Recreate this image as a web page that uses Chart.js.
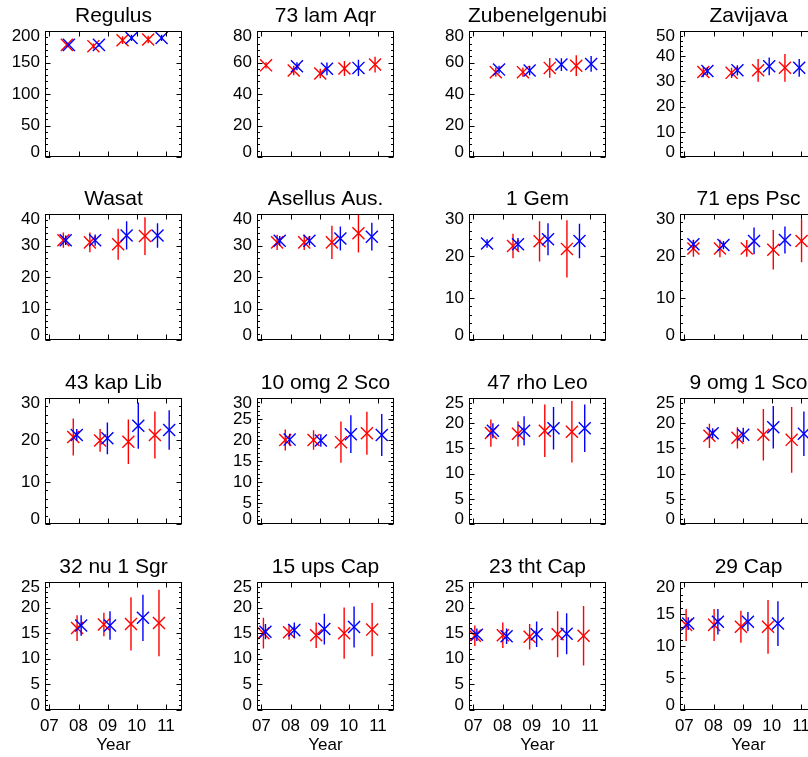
<!DOCTYPE html>
<html>
<head>
<meta charset="utf-8">
<script src="https://cdn.jsdelivr.net/npm/chart.js@4.4.1/dist/chart.umd.min.js"></script>
<style>
  html, body { margin: 0; padding: 0; background: #fff; }
  body { width: 808px; height: 757px; overflow: hidden; position: relative; }
  canvas { position: absolute; }
</style>
</head>
<body>
<script>
// ================= DATA =================
const starNames = [
  "Regulus", "73 lam Aqr", "Zubenelgenubi", "Zavijava",
  "Wasat", "Asellus Aus.", "1 Gem", "71 eps Psc",
  "43 kap Lib", "10 omg 2 Sco", "47 rho Leo", "9 omg 1 Sco",
  "32 nu 1 Sgr", "15 ups Cap", "23 tht Cap", "29 Cap"
];
const yMax  = [200, 80, 80, 50, 40, 40, 30, 30, 30, 30, 25, 25, 25, 25, 25, 20];
const yStep = [50, 20, 20, 10, 10, 10, 10, 10, 10, 5, 5, 5, 5, 5, 5, 5];

const yearTicks  = [2007, 2008, 2009, 2010, 2011];
const yearLabels = ["07", "08", "09", "10", "11"];

const redYears = [
  [2007.60, 2008.51, 2009.51, 2010.39],
  [2007.16, 2008.11, 2009.02, 2009.85, 2010.90],
  [2007.77, 2008.70, 2009.62, 2010.53],
  [2007.65, 2008.62, 2009.53, 2010.45],
  [2007.48, 2008.39, 2009.36, 2010.28],
  [2007.54, 2008.47, 2009.42, 2010.33],
  [2008.36, 2009.27, 2010.21],
  [2007.31, 2008.22, 2009.14, 2010.05, 2011.02],
  [2007.82, 2008.74, 2009.71, 2010.62],
  [2007.82, 2008.79, 2009.73, 2010.62],
  [2007.60, 2008.53, 2009.45, 2010.38],
  [2007.86, 2008.82, 2009.71, 2010.68],
  [2007.95, 2008.87, 2009.80, 2010.76],
  [2007.07, 2007.95, 2008.88, 2009.84, 2010.80],
  [2007.05, 2008.01, 2008.93, 2009.89, 2010.78],
  [2007.06, 2008.02, 2008.94, 2009.87]
];
const redValues = [
  [178, 176, 185.5, 186.5],
  [58.2, 54.9, 53.1, 56.2, 58.7],
  [53.9, 53.9, 56.6, 58.0],
  [33.7, 33.4, 34.4, 35.4],
  [31.7, 31.0, 30.4, 33.0],
  [31.0, 31.0, 31.0, 33.9],
  [22.4, 23.5, 21.7],
  [21.8, 21.8, 21.8, 21.5, 23.6],
  [20.7, 19.9, 19.6, 21.2],
  [20.0, 20.0, 19.5, 21.6],
  [18.05, 17.9, 18.5, 18.3],
  [17.5, 17.1, 17.7, 16.7],
  [16.0, 16.7, 16.8, 17.0],
  [15.0, 15.2, 14.6, 15.0, 15.7],
  [14.5, 14.6, 14.3, 14.8, 14.5],
  [13.3, 13.3, 13.0, 13.0]
];
const redErrors = [
  [3, 4, 6, 6],
  [2, 3, 3, 4.7, 5],
  [3, 3, 6.2, 6.6],
  [2, 2, 4.5, 5.5],
  [2.4, 3.1, 4.9, 6.0],
  [2.4, 2.4, 5.3, 6.1],
  [2.9, 4.8, 6.8],
  [2.0, 2.1, 2.0, 4.7, 5.1],
  [4.4, 2.7, 5.3, 5.6],
  [2.5, 2.3, 4.9, 5.1],
  [2.7, 2.5, 5.2, 6.1],
  [2.4, 2.1, 5.1, 6.5],
  [2.5, 2.3, 5.2, 6.5],
  [3.0, 1.5, 2.5, 5.0, 5.2],
  [2.0, 2.5, 2.5, 4.5, 5.8],
  [2.5, 2.5, 2.5, 4.2]
];

const blueYears = [
  [2007.67, 2008.70, 2009.82, 2010.85],
  [2008.22, 2009.25, 2010.33],
  [2007.88, 2008.93, 2010.02, 2011.04],
  [2007.79, 2008.82, 2009.91, 2010.94],
  [2007.56, 2008.57, 2009.65, 2010.71],
  [2007.63, 2008.65, 2009.71, 2010.79],
  [2007.47, 2008.53, 2009.56, 2010.64],
  [2007.31, 2008.34, 2009.39, 2010.45],
  [2007.94, 2008.99, 2010.05, 2011.11],
  [2007.97, 2009.04, 2010.07, 2011.13],
  [2007.67, 2008.74, 2009.75, 2010.82],
  [2007.97, 2009.02, 2010.05, 2011.10],
  [2008.09, 2009.08, 2010.21],
  [2007.14, 2008.13, 2009.16, 2010.18],
  [2007.12, 2008.14, 2009.17, 2010.20],
  [2007.13, 2008.15, 2009.18, 2010.21]
];
const blueValues = [
  [178, 178, 189, 189],
  [57.6, 56.0, 56.6],
  [55.5, 54.9, 58.7, 59.1],
  [34.1, 34.4, 36.0, 35.4],
  [31.7, 31.7, 33.2, 33.2],
  [31.5, 31.5, 32.2, 32.8],
  [23.0, 22.8, 24.0, 23.6],
  [22.8, 22.6, 23.6, 23.8],
  [21.2, 20.4, 23.4, 22.4],
  [20.1, 19.9, 21.4, 21.2],
  [18.5, 18.5, 19.0, 19.0],
  [18.0, 17.7, 19.2, 17.9],
  [16.5, 16.5, 18.0],
  [15.3, 15.6, 15.8, 16.2],
  [14.7, 14.4, 14.8, 14.9],
  [13.5, 13.8, 13.8, 13.5]
];
const blueErrors = [
  [2, 3, 5, 5],
  [2.5, 4, 5.2],
  [2.5, 3, 4, 5],
  [1.5, 2, 3.5, 3.5],
  [1.5, 1.8, 4.5, 3.9],
  [1.5, 1.5, 3.8, 4.4],
  [1, 1.5, 3.8, 4.1],
  [1.1, 1.0, 3.2, 3.2],
  [1.4, 3.8, 5.5, 4.7],
  [1.4, 1.5, 4.5, 5.0],
  [1.5, 2.9, 4.2, 4.7],
  [1.0, 1.4, 4.2, 4.4],
  [2.0, 2.8, 4.5],
  [1.5, 1.5, 3.0, 4.0],
  [1.2, 1.5, 2.5, 4.0],
  [1.0, 2.0, 1.5, 3.5]
];

// ================= LAYOUT =================
const colLeft = [45, 257, 469, 680];
const rowTop = [31, 214, 398, 582];
const boxW = 137, boxH = 128;
const padL = 50, padT = 34, padR = 12;
const xMin = 2006.85, xMax = 2011.55;
const RED = "#ff0000", BLUE = "#0000ff";
const FONT = '"Liberation Sans", Arial, Helvetica, sans-serif';

function markers(xs, ys) {
  return xs.map((x, i) => ({ x: x, y: ys[i] }));
}

// vertical bars separated by null gaps
function errorBars(xs, ys, es) {
  const pts = [];
  xs.forEach((x, i) => {
    pts.push({ x: x, y: ys[i] - es[i] }, { x: x, y: ys[i] + es[i] }, { x: x, y: null });
  });
  return pts;
}

// box, inward ticks, labels, title
const framePlugin = {
  id: "frame",
  afterDraw(chart, args, o) {
    const ctx = chart.ctx;
    const a = chart.chartArea;
    const xs = chart.scales.x, ys = chart.scales.y;
    const L = Math.round(a.left) + 0.5, R = Math.round(a.right) - 0.5;
    const T = Math.round(a.top) + 0.5, B = Math.round(a.bottom) - 0.5;

    ctx.save();
    ctx.strokeStyle = "#000";
    ctx.lineWidth = 1;
    ctx.strokeRect(L, T, R - L, B - T);

    ctx.beginPath();
    const minor = o.step / 5;
    for (let k = 0; k * minor <= o.max + 1e-9; k++) {
      const v = k * minor;
      const py = Math.round(ys.getPixelForValue(v)) + 0.5;
      const len = (k % 5 === 0) ? 5 : 2.5;
      ctx.moveTo(L, py); ctx.lineTo(L + len, py);
      ctx.moveTo(R, py); ctx.lineTo(R - len, py);
    }
    yearTicks.forEach(t => {
      const px = Math.round(xs.getPixelForValue(t)) + 0.5;
      ctx.moveTo(px, B); ctx.lineTo(px, B - 5);
      ctx.moveTo(px, T); ctx.lineTo(px, T + 5);
    });
    ctx.stroke();

    ctx.fillStyle = "#000";
    ctx.font = "17px " + FONT;
    ctx.textAlign = "right";
    ctx.textBaseline = "middle";
    for (let v = 0; v <= o.max + 1e-9; v += o.step) {
      let py = ys.getPixelForValue(v);
      py = Math.min(Math.max(py, a.top + 5), a.bottom - 5);
      ctx.fillText(String(v), a.left - 5, py);
    }

    if (o.showX) {
      ctx.textAlign = "center";
      yearTicks.forEach((t, i) => {
        ctx.fillText(yearLabels[i], xs.getPixelForValue(t), a.bottom + 16);
      });
      ctx.fillText("Year", (a.left + a.right) / 2, a.bottom + 35);
    }

    ctx.font = "21px " + FONT;
    ctx.textAlign = "center";
    ctx.textBaseline = "alphabetic";
    ctx.fillText(o.title, (a.left + a.right) / 2, a.top - 9);
    ctx.restore();
  }
};

// ================= CHARTS =================
starNames.forEach((name, i) => {
  const row = Math.floor(i / 4), col = i % 4;
  const showX = row === 3;
  const padB = showX ? 50 : 8;

  const canvas = document.createElement("canvas");
  canvas.width = padL + boxW + padR;
  canvas.height = padT + boxH + padB;
  canvas.style.left = (colLeft[col] - padL) + "px";
  canvas.style.top = (rowTop[row] - padT) + "px";
  document.body.appendChild(canvas);

  const markerStyle = (c) => ({
    pointStyle: "crossRot", pointRadius: 8.5, pointBorderWidth: 1.4,
    pointBorderColor: c, pointBackgroundColor: c, borderColor: c, showLine: false
  });
  const barStyle = (c) => ({
    showLine: true, pointRadius: 0, borderWidth: 1.4, borderColor: c, spanGaps: false
  });

  new Chart(canvas, {
    type: "scatter",
    data: {
      datasets: [
        Object.assign({ data: markers(blueYears[i], blueValues[i]) }, markerStyle(BLUE)),
        Object.assign({ data: errorBars(blueYears[i], blueValues[i], blueErrors[i]) }, barStyle(BLUE)),
        Object.assign({ data: markers(redYears[i], redValues[i]) }, markerStyle(RED)),
        Object.assign({ data: errorBars(redYears[i], redValues[i], redErrors[i]) }, barStyle(RED))
      ]
    },
    options: {
      responsive: false,
      animation: false,
      events: [],
      layout: { padding: { top: padT, right: padR, left: 0, bottom: 0 } },
      plugins: {
        legend: { display: false },
        tooltip: { enabled: false },
        frame: { title: name, max: yMax[i], step: yStep[i], showX: showX }
      },
      scales: {
        x: {
          type: "linear", min: xMin, max: xMax,
          ticks: { display: false }, grid: { display: false }, border: { display: false },
          afterFit: s => { s.height = padB; }
        },
        y: {
          type: "linear", min: 0, max: yMax[i],
          ticks: { display: false }, grid: { display: false }, border: { display: false },
          afterFit: s => { s.width = padL; }
        }
      }
    },
    plugins: [framePlugin]
  });
});
</script>
</body>
</html>
